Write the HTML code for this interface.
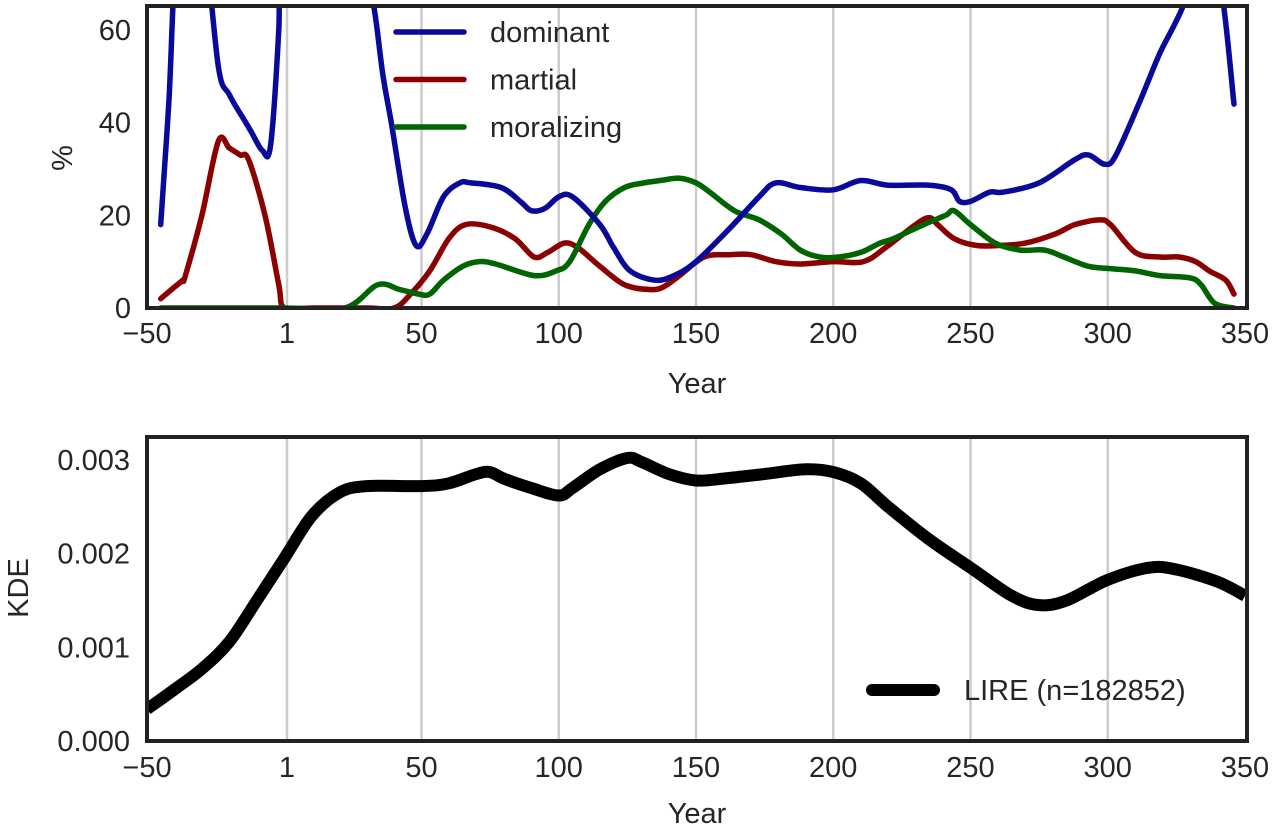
<!DOCTYPE html>
<html><head><meta charset="utf-8">
<style>
html,body{margin:0;padding:0;background:#fff;}
svg{display:block;font-family:"Liberation Sans",Arial,sans-serif;}
</style></head>
<body>
<svg id="fig" width="1280" height="829" viewBox="0 0 1280 829">
  <defs>
    <clipPath id="clipTop"><rect x="148" y="7" width="1099" height="299"/></clipPath>
    <clipPath id="clipBot"><rect x="148" y="438" width="1099" height="301"/></clipPath>
  </defs>
  <g id="topChart"></g>
  <g id="botChart"></g>
</svg>
<script>
// ---------- data ----------
const xTicks = [-50, 1, 50, 100, 150, 200, 250, 300, 350];
const xTickLabels = ["\u221250", "1", "50", "100", "150", "200", "250", "300", "350"];
const topYTicks = [0, 20, 40, 60];
const botYTicks = [0, 0.001, 0.002, 0.003];
const botYTickLabels = ["0.000", "0.001", "0.002", "0.003"];

const dominantYears = [-45,-42,-39,-33,-29,-24,-20,-14,-12,-8,-5,-2,0,20,31,36,39,44,48,52,58,64,68,79,86,90,95,100,105,115,120,126,135,142,150,162,173,179,188,200,210,220,235,243,246,250,257,262,275,288,293,299,303,312,319,328,334,341,346];
const dominantValues = [18,45,80,90,80,52,46,40,38,34,35,60,90,90,70,50,40,22,13.5,16,24,27,27,26,23,21,21.5,24,24,18,13,8,6,7,10,17,24,27,26,25.5,27.5,26.5,26.5,25.5,23,23,25,25,27,32,33,31,33,45,55,66,80,70,44];

const martialYears = [-45,-40,-37,-36,-30,-24,-20,-16,-13,-7,-2,0,10,30,40,46,53,60,66,75,84,91,96,102,107,115,124,133,138,144,153,162,170,179,188,200,211,219,230,235,238,244,252,261,270,281,288,297,301,310,319,326,332,337,343,346];
const martialValues = [2,4.5,6,7,20,36,34.5,33,32,20,5,0,0,0,0,3,8,15,18,17.5,15,11,12,14,13,9,5,4,4.5,7,11,11.5,11.5,10,9.5,10,10,13,18,19.5,18,15,13.5,13.5,14,16,18,19,18,12,11,11,10,8,6,3];

const moralYears = [-45,0,22,34,42,49,53,58,65,71,77,91,99,104,111,117,124,131,137,144,150,155,164,173,181,188,195,202,210,217,222,233,241,244,250,259,268,277,284,293,301,310,319,330,334,339,346];
const moralValues = [0,0,0,5,4,3,3,6,9,10,9.5,7,8,10,18,23,26,27,27.5,28,27,25,21,19,16,12.5,11,11,12,14,15,18,20,21,18,14,12.5,12.5,11,9,8.5,8,7,6.5,5,1,0];

const kdeYears = [-50,-40,-30,-20,-10,0,10,20,30,50,60,70,75,80,90,100,105,115,125,130,140,150,160,175,190,200,210,220,235,250,265,275,285,300,315,325,340,350];
const kdeValues = [0.00034,0.00055,0.00077,0.00106,0.0015,0.00195,0.0024,0.00265,0.00272,0.00272,0.00275,0.00285,0.00287,0.0028,0.0027,0.00262,0.0027,0.0029,0.00302,0.00298,0.00285,0.00278,0.0028,0.00285,0.0029,0.00287,0.00275,0.0025,0.00215,0.00185,0.00155,0.00145,0.0015,0.00172,0.00185,0.00183,0.0017,0.00155];

// ---------- scales ----------
const xS = y => 147 + (y + 50) * 2.745;
const yTop = v => 308 - v * 4.635;
const yBot = v => 741 - v * 93700;
const NS = "http://www.w3.org/2000/svg";
const FS = 29;
function mk(parent, tag, attrs){ const e = document.createElementNS(NS, tag); for (const k in attrs) e.setAttribute(k, attrs[k]); parent.appendChild(e); return e; }
function pathD(xs, vs, ys){
  const P = xs.map((x,i)=>[xS(x), ys(vs[i])]);
  let d = "M"+P[0][0].toFixed(1)+","+P[0][1].toFixed(1);
  for (let i=0;i<P.length-1;i++){
    const p0=P[Math.max(0,i-1)], p1=P[i], p2=P[i+1], p3=P[Math.min(P.length-1,i+2)];
    const c1x=p1[0]+(p2[0]-p0[0])/6, c1y=p1[1]+(p2[1]-p0[1])/6;
    const c2x=p2[0]-(p3[0]-p1[0])/6, c2y=p2[1]-(p3[1]-p1[1])/6;
    d += " C"+c1x.toFixed(1)+","+c1y.toFixed(1)+" "+c2x.toFixed(1)+","+c2y.toFixed(1)+" "+p2[0].toFixed(1)+","+p2[1].toFixed(1);
  }
  return d;
}

// ---------- top chart ----------
const topG = document.getElementById("topChart");
xTicks.slice(1,-1).forEach(t=>{
  const g = mk(topG,"line",{x1:xS(t),x2:xS(t),y1:7,y2:306,stroke:"#cccccc","stroke-width":2.5});
  
  
});
const series = [
  {xs:dominantYears, vs:dominantValues, c:"#0a0a9a", n:"dominant-line"},
  {xs:martialYears, vs:martialValues, c:"#8b0000", n:"martial-line"},
  {xs:moralYears, vs:moralValues, c:"#006400", n:"moralizing-line"}
];
const order = [series[1], series[2], series[0]];
order.forEach(s=>{
  const p = mk(topG,"path",{d:pathD(s.xs,s.vs,yTop),fill:"none",stroke:s.c,"stroke-width":5.5,"stroke-linejoin":"round","stroke-linecap":"round","clip-path":"url(#clipTop)"});
  
  
});
const tb = mk(topG,"rect",{x:147,y:6,width:1100,height:302,fill:"none",stroke:"#222","stroke-width":4});


xTicks.forEach((t,i)=>{
  const tx = mk(topG,"text",{x:xS(t),y:343,"text-anchor":"middle","font-size":FS,fill:"#262626"});
  tx.textContent = xTickLabels[i];
  
  
});
topYTicks.forEach(t=>{
  const tx = mk(topG,"text",{x:131,y:yTop(t)+10,"text-anchor":"end","font-size":FS,fill:"#262626"});
  tx.textContent = String(t);
  
  
});
const t1 = mk(topG,"text",{x:697,y:393,"text-anchor":"middle","font-size":FS,fill:"#262626"});
t1.textContent="Year";


const t2 = mk(topG,"text",{x:0,y:0,"text-anchor":"middle","font-size":FS,fill:"#262626",transform:"translate(72,158) rotate(-90)"});
t2.textContent="%";


const legNames = ["dominant","martial","moralizing"];
series.forEach((s,i)=>{
  const y = 32 + i*47.5;
  const l = mk(topG,"line",{x1:396,x2:464,y1:y,y2:y,stroke:s.c,"stroke-width":5.5,"stroke-linecap":"round"});
  
  
  const tx = mk(topG,"text",{x:490,y:y+10,"font-size":FS,fill:"#262626"});
  tx.textContent = legNames[i];
  
  
});

// ---------- bottom chart ----------
const botG = document.getElementById("botChart");
xTicks.slice(1,-1).forEach(t=>{
  const g = mk(botG,"line",{x1:xS(t),x2:xS(t),y1:438,y2:739,stroke:"#cccccc","stroke-width":2.5});
  
  
});
const kp = mk(botG,"path",{d:pathD(kdeYears,kdeValues,yBot),fill:"none",stroke:"#000","stroke-width":12,"stroke-linejoin":"round","clip-path":"url(#clipBot)"});


const bb = mk(botG,"rect",{x:147,y:437,width:1100,height:304,fill:"none",stroke:"#222","stroke-width":4});


xTicks.forEach((t,i)=>{
  const tx = mk(botG,"text",{x:xS(t),y:777,"text-anchor":"middle","font-size":FS,fill:"#262626"});
  tx.textContent = xTickLabels[i];
  
  
});
botYTicks.forEach((t,i)=>{
  const tx = mk(botG,"text",{x:130,y:yBot(t)+10,"text-anchor":"end","font-size":FS,fill:"#262626"});
  tx.textContent = botYTickLabels[i];
  
  
});
const t3 = mk(botG,"text",{x:697,y:823,"text-anchor":"middle","font-size":FS,fill:"#262626"});
t3.textContent="Year";


const t4 = mk(botG,"text",{x:0,y:0,"text-anchor":"middle","font-size":FS,fill:"#262626",transform:"translate(28,588) rotate(-90)"});
t4.textContent="KDE";


const kl = mk(botG,"line",{x1:872,x2:934,y1:690,y2:690,stroke:"#000","stroke-width":12,"stroke-linecap":"round"});


const kt = mk(botG,"text",{x:964,y:700,"font-size":FS,fill:"#262626"});
kt.textContent="LIRE (n=182852)";


</script>
</body></html>
